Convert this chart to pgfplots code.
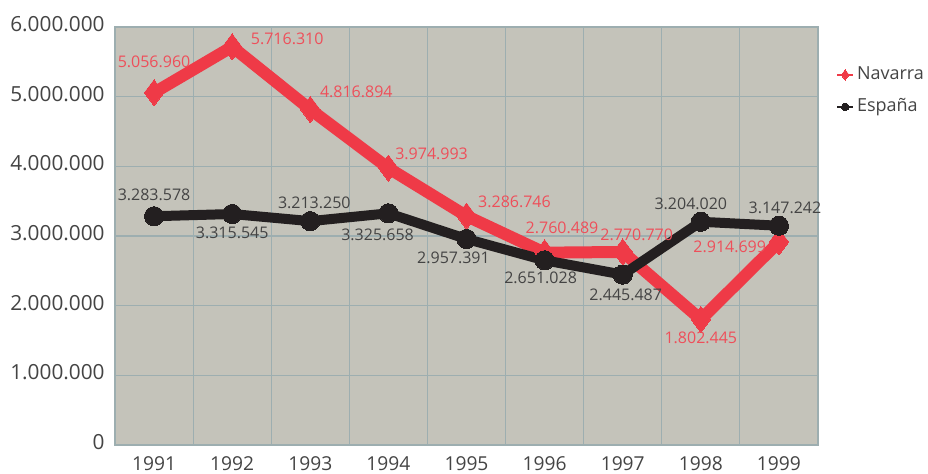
\documentclass[border=0pt]{standalone}
\usepackage{fontspec}
\setmainfont{Open Sans}
\usepackage{pgfplots}
\usepackage{pgfplotstable}
\pgfplotsset{compat=1.18}

\definecolor{bg}{HTML}{C4C3BA}
\definecolor{gridc}{HTML}{9DAEB0}
\definecolor{navred}{HTML}{EF3A47}
\definecolor{navtxt}{HTML}{EE4F5A}
\definecolor{espblk}{HTML}{231F20}
\definecolor{txt}{HTML}{444444}

% x = year index (1991 = 0), dx/dy = label offset in pt
\pgfplotstableread{
x y lab dx dy
0 5056960 5.056.960 0 15.3
1 5716310 5.716.310 27.5 3.9
2 4816894 4.816.894 23 8.6
3 3974993 3.974.993 21.6 7.3
4 3286746 3.286.746 24 7.3
5 2760489 2.760.489 8.7 12.5
6 2770770 2.770.770 7 8.7
7 1802445 1.802.445 0 -9.2
8 2914699 2.914.699 -24.6 -2.3
}\navarra

\pgfplotstableread{
x y lab dx dy
0 3283578 3.283.578 0 10.9
1 3315545 3.315.545 0 -9.2
2 3213250 3.213.250 2 9.3
3 3325658 3.325.658 -5.4 -11
4 2957391 2.957.391 -6.5 -9.2
5 2651028 2.651.028 -2 -8.6
6 2445487 2.445.487 1.5 -10
7 3204020 3.204.020 -5 9.1
8 3147242 3.147.242 3 9.1
}\espana

\begin{document}
\begin{tikzpicture}
\begin{axis}[
  scale only axis,
  width=351.5pt, height=209pt,
  xmin=-0.5, xmax=8.5,
  ymin=0, ymax=6000000,
  xtick=data,
  xticklabels={1991,1992,1993,1994,1995,1996,1997,1998,1999},
  minor xtick={0.5,1.5,...,7.5},
  ytick={0,1000000,2000000,3000000,4000000,5000000,6000000},
  scaled y ticks=false,
  major tick length=0pt, minor tick length=0pt,
  ymajorgrids, xminorgrids,
  grid style={gridc, line width=0.6pt},
  minor grid style={gridc, line width=0.6pt},
  axis line style={gridc, line width=0.7pt},
  axis background/.style={fill=bg},
  yticklabel style={/pgf/number format/fixed, /pgf/number format/precision=0,
    /pgf/number format/1000 sep={.}, /pgf/number format/assume math mode=true,
    font=\fontsize{10.4}{12}\selectfont, text=txt, anchor=east, inner sep=0pt, xshift=-5pt, yshift=1.5pt},
  xticklabel style={font=\fontsize{9.6}{12}\selectfont, text=txt, anchor=north, inner sep=0pt, yshift=-5.5pt},
  clip=false,
  legend image code/.code={\draw[mark repeat=2, mark phase=2, #1]
    plot coordinates {(0pt,0pt) (4pt,0pt) (8pt,0pt)};},
  legend style={at={(1.0256,0.915)}, anchor=north west, draw=none, fill=none,
    font=\fontsize{9}{11}\selectfont, text=txt, row sep=4pt, inner sep=0pt,
    nodes={inner xsep=1.5pt}},
  legend cell align=left,
]
\coordinate (bl) at (rel axis cs:0,0);
\coordinate (tr) at (rel axis cs:1,1);

\addplot[navred, line width=6pt, line join=round,
  mark=diamond*, mark size=6.5pt,
  mark options={solid, line width=0pt, fill=navred, draw=navred},
  point meta=explicit symbolic,
  visualization depends on={\thisrow{dx} \as \labdx},
  visualization depends on={\thisrow{dy} \as \labdy},
  nodes near coords={\pgfplotspointmeta},
  every node near coord/.append style={anchor=center, xshift=\labdx pt, yshift=\labdy pt,
    font=\fontsize{8}{10}\selectfont, text=navtxt, inner sep=0pt},
  legend image post style={line width=0.8pt, mark size=2.6pt}
] table[x=x, y=y, meta=lab] {\navarra};
\addlegendentry{Navarra}

\addplot[espblk, line width=5pt, line join=round,
  mark=*, mark size=4.8pt,
  mark options={solid, line width=0pt, fill=espblk, draw=espblk},
  point meta=explicit symbolic,
  visualization depends on={\thisrow{dx} \as \labdx},
  visualization depends on={\thisrow{dy} \as \labdy},
  nodes near coords={\pgfplotspointmeta},
  every node near coord/.append style={anchor=center, xshift=\labdx pt, yshift=\labdy pt,
    font=\fontsize{8}{10}\selectfont, text=txt, inner sep=0pt},
  legend image post style={line width=0.8pt, mark size=1.9pt}
] table[x=x, y=y, meta=lab] {\espana};
\addlegendentry{España}
\end{axis}
\pgfresetboundingbox
\path[use as bounding box] ([shift={(-57.5pt,-14.5pt)}]bl) rectangle ([shift={(55pt,13.5pt)}]tr);
\end{tikzpicture}
\end{document}
